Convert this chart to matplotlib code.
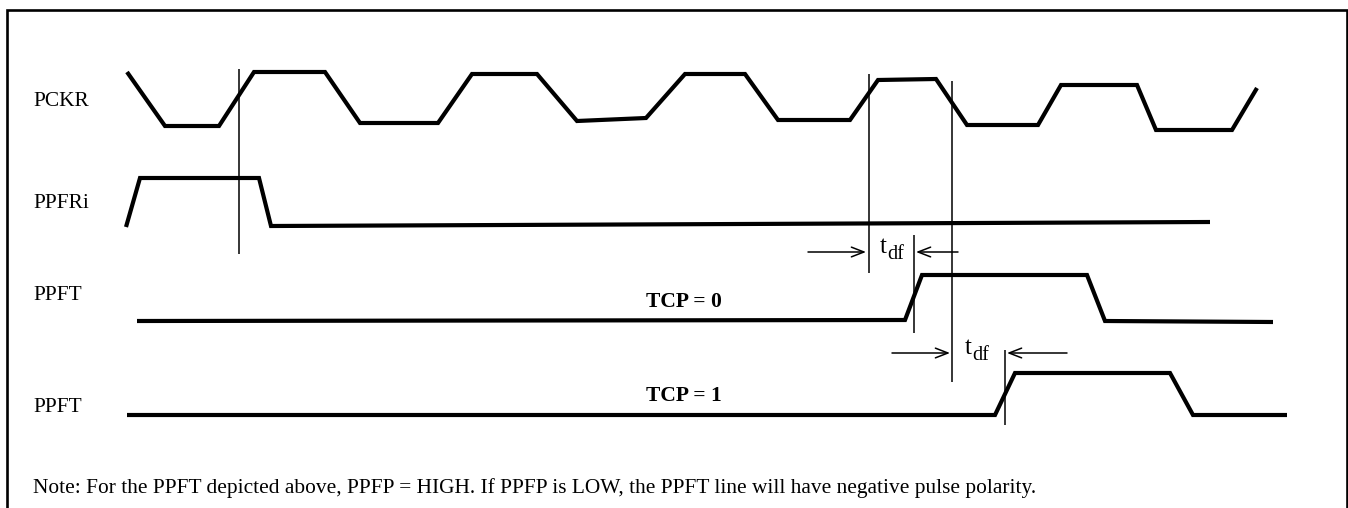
import matplotlib
matplotlib.use("Agg")
import matplotlib.pyplot as plt

# ---- data (diagram coordinates: x = time axis, y = vertical position, inverted) ----
pckr_x = [127, 165, 219, 254, 325, 360, 438, 472, 537, 577, 646, 685, 745, 778, 850, 878, 936, 967, 1038, 1061, 1137, 1156, 1232, 1257]
pckr_y = [72, 126, 126, 72, 72, 123, 123, 74, 74, 121, 118, 74, 74, 120, 120, 80, 79, 125, 125, 85, 85, 130, 130, 88]

ppfri_x = [126, 140, 259, 271, 1210]
ppfri_y = [227, 178, 178, 226, 222]

ppft0_x = [137, 905, 922, 1087, 1105, 1273]
ppft0_y = [321, 320, 275, 275, 321, 322]

ppft1_x = [127, 995, 1015, 1170, 1193, 1287]
ppft1_y = [415, 415, 373, 373, 415, 415]

# vertical reference lines: (x, y_top, y_bottom)
vlines = [(239, 69, 254), (869, 74, 273), (914, 235, 333), (952, 81, 382), (1005, 350, 425)]

# t_df arrows: (x_start, x_end, y)
arrows = [(808, 866, 252), (958, 916, 252), (892, 950, 353), (1067, 1007, 353)]
tdf_pos = [(880, 252), (965, 353)]

signal_labels = ["PCKR", "PPFRi", "PPFT", "PPFT"]
signal_label_y = [101, 204, 296, 407]
tcp_labels = ["TCP = 0", "TCP = 1"]
tcp_y = [302, 396]
note = ("Note: For the PPFT depicted above, PPFP = HIGH. If PPFP is LOW, "
        "the PPFT line will have negative pulse polarity.")

W, H = 1348, 508
fig = plt.figure(figsize=(W / 100, H / 100), dpi=100)
ax = fig.add_axes([0, 0, 1, 1])
ax.set_xlim(0, W)
ax.set_ylim(H, 0)
ax.axis("off")

serif = "Liberation Serif"

# frame (open at bottom)
ax.plot([7, 7, 1347, 1347], [H, 10, 10, H], color="black", lw=1.9,
        solid_joinstyle="miter", solid_capstyle="butt")

wave_kw = dict(color="black", lw=3.0, solid_joinstyle="miter", solid_capstyle="butt")
ax.plot(pckr_x, pckr_y, **wave_kw)
ax.plot(ppfri_x, ppfri_y, **wave_kw)
ax.plot(ppft0_x, ppft0_y, **wave_kw)
ax.plot(ppft1_x, ppft1_y, **wave_kw)

for x, y0, y1 in vlines:
    ax.plot([x, x], [y0, y1], color="black", lw=1.1, solid_capstyle="butt")

for x0, x1, y in arrows:
    ax.annotate("", xy=(x1, y), xytext=(x0, y),
                arrowprops=dict(arrowstyle="->,head_length=0.9,head_width=0.35",
                                color="black", lw=1.1, shrinkA=0, shrinkB=0))

for x, y in tdf_pos:
    ax.text(x, y + 1, "t", fontsize=18, family=serif, ha="left", va="baseline")
    ax.text(x + 7, y + 7, "df", fontsize=14.5, family=serif, ha="left", va="baseline")

for lab, y in zip(signal_labels, signal_label_y):
    ax.text(33, y, lab, fontsize=15.4, family=serif, ha="left", va="center")

for lab, y in zip(tcp_labels, tcp_y):
    ax.text(684, y, lab, fontsize=15.5, family=serif, fontweight="bold",
            ha="center", va="center")

ax.text(33, 488, note, fontsize=15.4, family=serif, ha="left", va="center")

fig.savefig("out.png", dpi=100)
